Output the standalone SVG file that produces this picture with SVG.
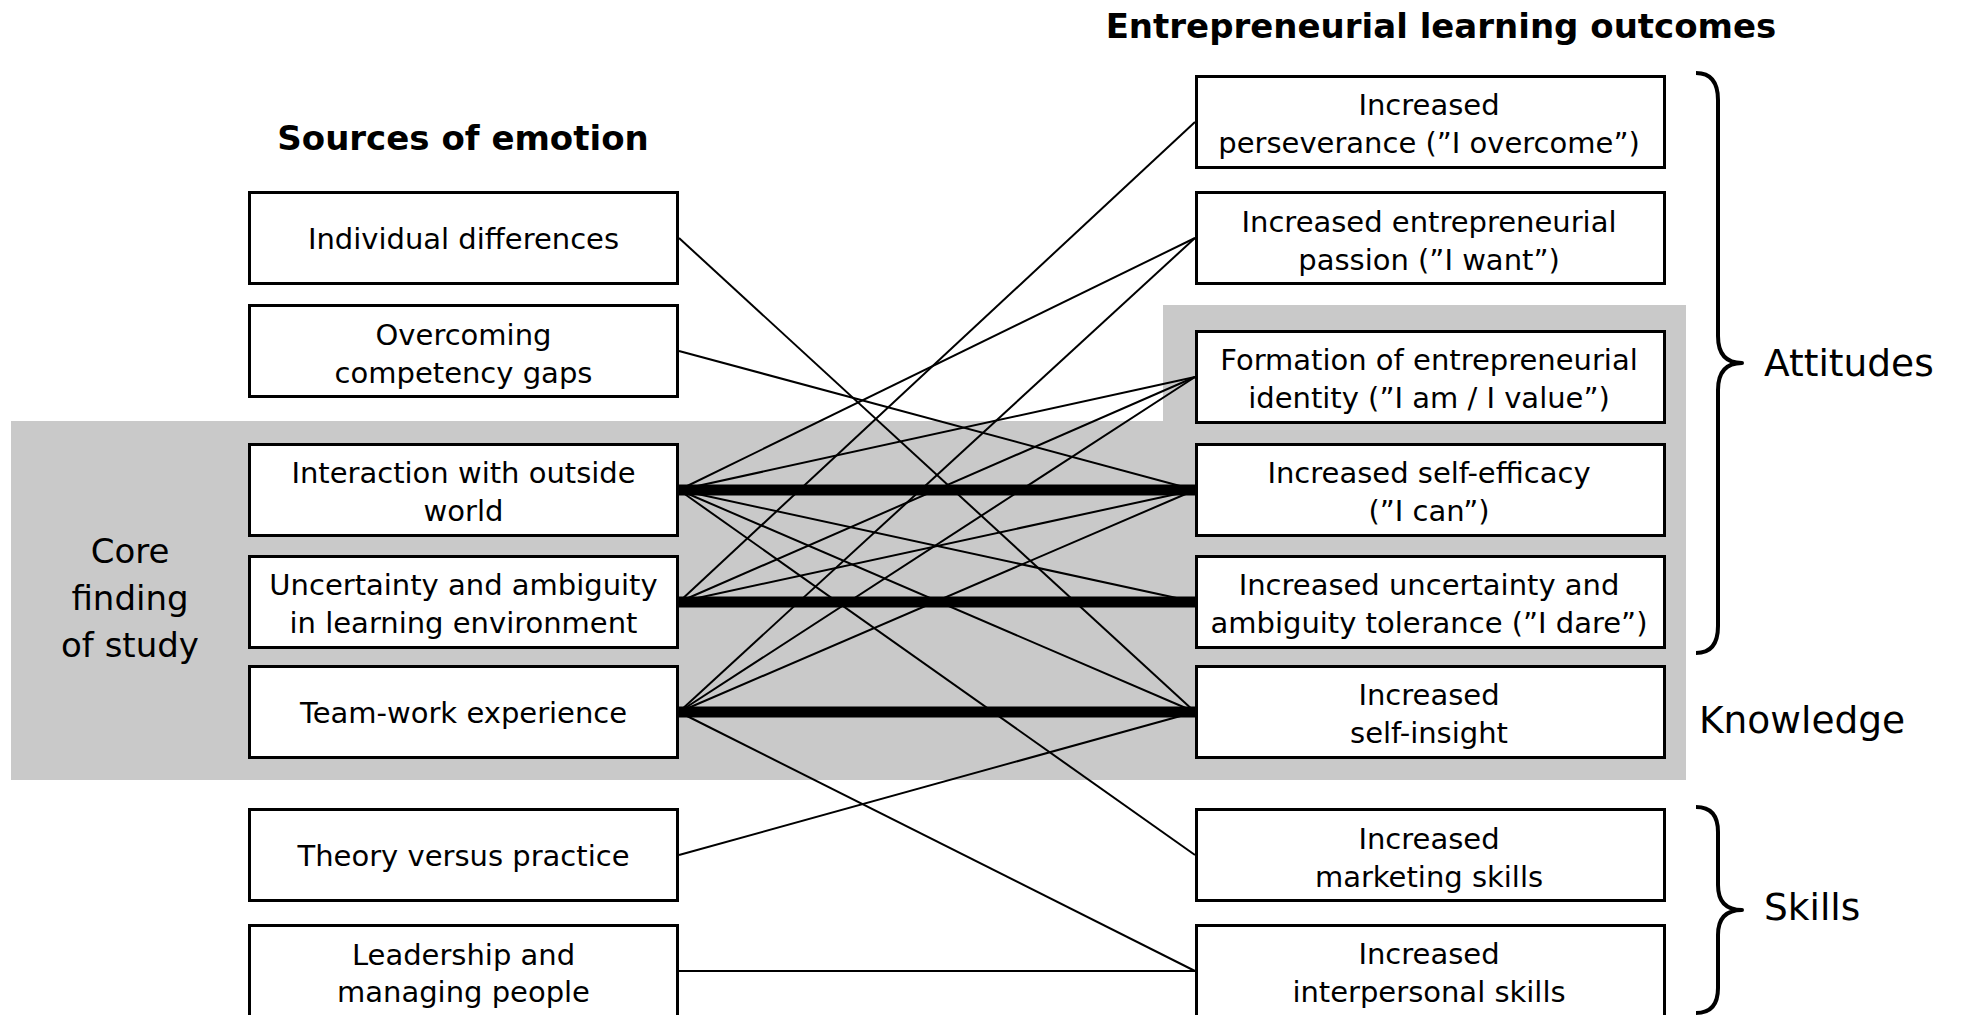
<svg xmlns="http://www.w3.org/2000/svg" width="1962" height="1015" viewBox="0 0 1962 1015">
<style>
.bg{fill:#c9c9c9;stroke:none}
.box{fill:#ffffff;stroke:#000;stroke-width:3}
.t{font-family:'DejaVu Sans',Verdana,sans-serif;font-size:29px;fill:#000;text-anchor:middle}
.h{font-family:'DejaVu Sans',Verdana,sans-serif;font-size:34px;font-weight:bold;fill:#000;text-anchor:middle}
.lab{font-family:'DejaVu Sans',Verdana,sans-serif;font-size:37.5px;fill:#000}
.thin{stroke:#000;stroke-width:2;fill:none}
.thick{stroke:#000;stroke-width:11;fill:none}
.brace{stroke:#000;stroke-width:4;fill:none;stroke-linejoin:round}
</style>
<rect width="1962" height="1015" fill="#ffffff"/>
<g id="core-area">
<polygon class="bg" points="11,421 1163,421 1163,305 1686,305 1686,780 11,780"/>
<text class="lab" style="font-size:34px" text-anchor="middle" x="130" y="563">Core</text>
<text class="lab" style="font-size:34px" text-anchor="middle" x="130" y="610">finding</text>
<text class="lab" style="font-size:34px" text-anchor="middle" x="130" y="657">of study</text>
</g>
<g id="headers">
<text class="h" x="463" y="150">Sources of emotion</text>
<text class="h" x="1441" y="38">Entrepreneurial learning outcomes</text>
</g>
<g id="connectors">
<line class="thin" x1="679" y1="238" x2="1195" y2="712"/>
<line class="thin" x1="679" y1="351" x2="1195" y2="490"/>
<line class="thin" x1="679" y1="490" x2="1195" y2="238"/>
<line class="thin" x1="679" y1="490" x2="1195" y2="377"/>
<line class="thin" x1="679" y1="490" x2="1195" y2="602"/>
<line class="thin" x1="679" y1="490" x2="1195" y2="712"/>
<line class="thin" x1="679" y1="490" x2="1195" y2="855"/>
<line class="thin" x1="679" y1="602" x2="1195" y2="122"/>
<line class="thin" x1="679" y1="602" x2="1195" y2="377"/>
<line class="thin" x1="679" y1="602" x2="1195" y2="490"/>
<line class="thin" x1="679" y1="712" x2="1195" y2="238"/>
<line class="thin" x1="679" y1="712" x2="1195" y2="377"/>
<line class="thin" x1="679" y1="712" x2="1195" y2="490"/>
<line class="thin" x1="679" y1="712" x2="1195" y2="971"/>
<line class="thin" x1="679" y1="855" x2="1195" y2="712"/>
<line class="thin" x1="679" y1="971" x2="1195" y2="971"/>
<line class="thick" x1="679" y1="490" x2="1195" y2="490"/>
<line class="thick" x1="679" y1="602" x2="1195" y2="602"/>
<line class="thick" x1="679" y1="712" x2="1195" y2="712"/>
</g>
<g id="src-individual"><rect class="box" x="249.5" y="192.5" width="428" height="91"/><text class="t" x="463.5" y="249">Individual differences</text></g>
<g id="src-competency"><rect class="box" x="249.5" y="305.5" width="428" height="91"/><text class="t" x="463.5" y="345">Overcoming</text><text class="t" x="463.5" y="383">competency gaps</text></g>
<g id="src-interaction"><rect class="box" x="249.5" y="444.5" width="428" height="91"/><text class="t" x="463.5" y="483">Interaction with outside</text><text class="t" x="463.5" y="521">world</text></g>
<g id="src-uncertainty"><rect class="box" x="249.5" y="556.5" width="428" height="91"/><text class="t" x="463.5" y="595">Uncertainty and ambiguity</text><text class="t" x="463.5" y="633">in learning environment</text></g>
<g id="src-teamwork"><rect class="box" x="249.5" y="666.5" width="428" height="91"/><text class="t" x="463.5" y="723">Team-work experience</text></g>
<g id="src-theory"><rect class="box" x="249.5" y="809.5" width="428" height="91"/><text class="t" x="463.5" y="866">Theory versus practice</text></g>
<g id="src-leadership"><rect class="box" x="249.5" y="925.5" width="428" height="91"/><text class="t" x="463.5" y="965">Leadership and</text><text class="t" x="463.5" y="1002">managing people</text></g>
<g id="out-perseverance"><rect class="box" x="1196.5" y="76.5" width="468" height="91"/><text class="t" x="1429" y="115">Increased</text><text class="t" x="1429" y="153">perseverance (”I overcome”)</text></g>
<g id="out-passion"><rect class="box" x="1196.5" y="192.5" width="468" height="91"/><text class="t" x="1429" y="232">Increased entrepreneurial</text><text class="t" x="1429" y="270">passion (”I want”)</text></g>
<g id="out-identity"><rect class="box" x="1196.5" y="331.5" width="468" height="91"/><text class="t" x="1429" y="370">Formation of entrepreneurial</text><text class="t" x="1429" y="408">identity (”I am / I value”)</text></g>
<g id="out-selfefficacy"><rect class="box" x="1196.5" y="444.5" width="468" height="91"/><text class="t" x="1429" y="483">Increased self-efficacy</text><text class="t" x="1429" y="521">(”I can”)</text></g>
<g id="out-tolerance"><rect class="box" x="1196.5" y="556.5" width="468" height="91"/><text class="t" x="1429" y="595">Increased uncertainty and</text><text class="t" x="1429" y="633">ambiguity tolerance (”I dare”)</text></g>
<g id="out-selfinsight"><rect class="box" x="1196.5" y="666.5" width="468" height="91"/><text class="t" x="1429" y="705">Increased</text><text class="t" x="1429" y="743">self-insight</text></g>
<g id="out-marketing"><rect class="box" x="1196.5" y="809.5" width="468" height="91"/><text class="t" x="1429" y="849">Increased</text><text class="t" x="1429" y="887">marketing skills</text></g>
<g id="out-interpersonal"><rect class="box" x="1196.5" y="925.5" width="468" height="91"/><text class="t" x="1429" y="964">Increased</text><text class="t" x="1429" y="1002">interpersonal skills</text></g>
<g id="groups">
<path class="brace" d="M1696,73 Q1718,73 1718,100 L1718,336 Q1718,363 1742,363 Q1718,363 1718,390 L1718,626 Q1718,653 1696,653"/>
<text class="lab" x="1764" y="376">Attitudes</text>
<text class="lab" x="1699" y="733">Knowledge</text>
<path class="brace" d="M1696,807 Q1718,807 1718,832 L1718,885 Q1718,910 1742,910 Q1718,910 1718,935 L1718,988 Q1718,1013 1696,1013"/>
<text class="lab" x="1764" y="920">Skills</text>
</g>
</svg>
